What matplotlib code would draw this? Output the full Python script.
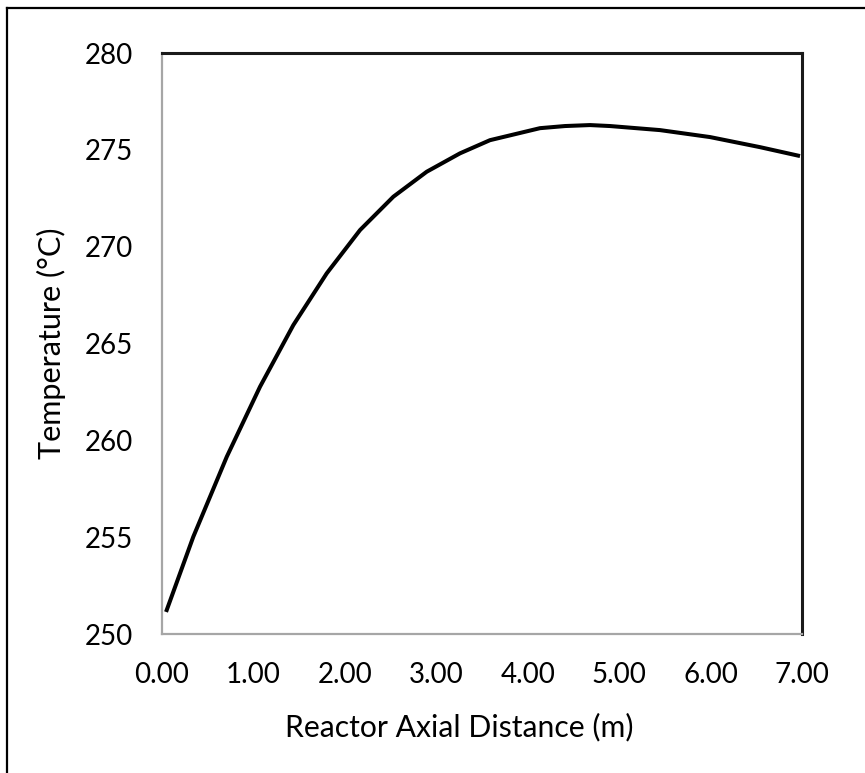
import numpy as np
import matplotlib
matplotlib.use('Agg')
import matplotlib.pyplot as plt
from matplotlib.lines import Line2D

# values
distance = [0.044, 0.342, 0.708, 1.072, 1.436, 1.801, 2.166, 2.530, 2.895, 3.259,
            3.587, 4.134, 4.408, 4.681, 4.900, 5.447, 5.994, 6.540, 6.978]
temperature = [251.14, 255.02, 259.15, 262.77, 265.95, 268.62, 270.86, 272.58, 273.87, 274.82,
               275.50, 276.12, 276.23, 276.28, 276.23, 276.02, 275.66, 275.14, 274.68]
x_ticks = [0, 1, 2, 3, 4, 5, 6, 7]
y_ticks = [250, 255, 260, 265, 270, 275, 280]

plt.rcParams['font.family'] = ['Lato', 'DejaVu Sans']

fig = plt.figure(figsize=(8.65, 7.73), dpi=100)
ax = fig.add_axes([0.1873, 0.1798, 0.7399, 0.7516])

ax.plot(distance, temperature, color='black', linewidth=2.9,
        solid_capstyle='butt', solid_joinstyle='round')

ax.set_xlim(0, 7)
ax.set_ylim(250, 280)
ax.set_xticks(x_ticks)
ax.set_xticklabels([f'{t:.2f}' for t in x_ticks])
ax.set_yticks(y_ticks)
ax.tick_params(axis='both', length=0, labelsize=20)
ax.tick_params(axis='x', pad=20)
ax.tick_params(axis='y', pad=21)

for side in ['left', 'bottom']:
    ax.spines[side].set_color('#A6A6A6')
    ax.spines[side].set_linewidth(1.6)
for side in ['top', 'right']:
    ax.spines[side].set_color('#1a1a1a')
    ax.spines[side].set_linewidth(2.2)

xlab = fig.text(459 / 865, 1 - 727 / 773, 'Reactor Axial Distance (m)', fontsize=21,
                ha='center', va='center')
ylab = fig.text(51 / 865, 1 - 343 / 773, 'Temperature (°C)', fontsize=21,
                ha='center', va='center', rotation=90)

# size the axis titles so their length matches the reference (px)
renderer = fig.canvas.get_renderer()
w = xlab.get_window_extent(renderer).width
xlab.set_fontsize(21 * 348 / w)
h = ylab.get_window_extent(renderer).height
ylab.set_fontsize(21 * 232 / h)

# outer chart frame (only left and top edges visible)
fig.add_artist(Line2D([7.5 / 865, 7.5 / 865], [0, 1 - 7.5 / 773], transform=fig.transFigure,
                      color='black', linewidth=1.6))
fig.add_artist(Line2D([7.5 / 865, 1], [1 - 7.5 / 773, 1 - 7.5 / 773], transform=fig.transFigure,
                      color='black', linewidth=1.6))

fig.savefig('out.png', dpi=100)
